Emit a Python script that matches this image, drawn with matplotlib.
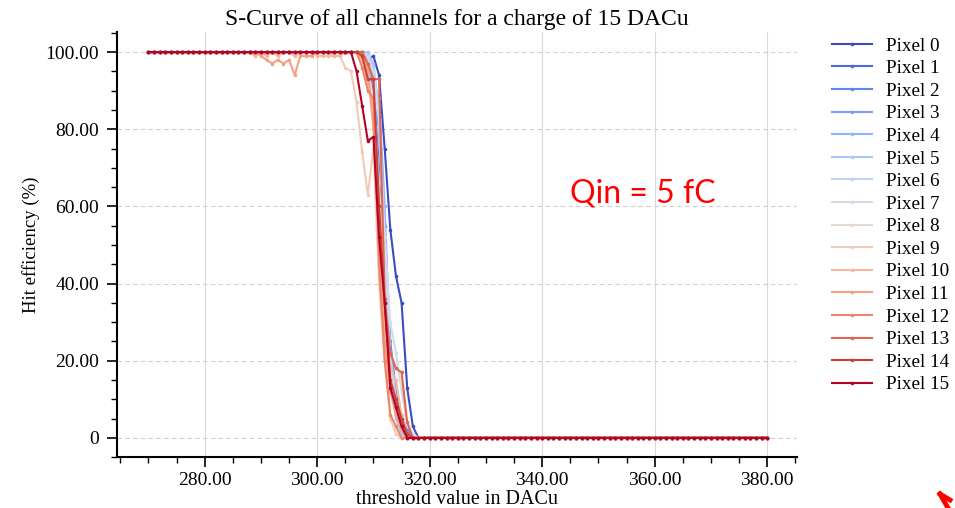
import numpy as np
import matplotlib
matplotlib.use("Agg")
import matplotlib.pyplot as plt
from matplotlib.ticker import MultipleLocator, FuncFormatter
from matplotlib.lines import Line2D

# Threshold scan (DACu) and per-pixel hit efficiency (%)
thresholds = list(range(270, 381))

# Values inside the transition region; below it every pixel sits at 100 %,
# above it at 0 %.
pixel_0 = {308: 100, 309: 98, 310: 99, 311: 94, 312: 75, 313: 54, 314: 42, 315: 35, 316: 13, 317: 3, 318: 0}
pixel_1 = {308: 100, 309: 97, 310: 90, 311: 70, 312: 40, 313: 20, 314: 10, 315: 4, 316: 1, 317: 0}
pixel_2 = {309: 99, 310: 95, 311: 85, 312: 55, 313: 25, 314: 12, 315: 5, 316: 2, 317: 0}
pixel_3 = {309: 96, 310: 88, 311: 80, 312: 45, 313: 18, 314: 8, 315: 3, 316: 0}
pixel_4 = {309: 97, 310: 92, 311: 88, 312: 60, 313: 20, 314: 6, 315: 2, 316: 0}
pixel_5 = {309: 100, 310: 97, 311: 84, 312: 50, 313: 16, 314: 5, 315: 1, 316: 0}
pixel_6 = {309: 98, 310: 94, 311: 82, 312: 48, 313: 22, 314: 10, 315: 3, 316: 0}
pixel_7 = {309: 99, 310: 95, 311: 84, 312: 52, 313: 30, 314: 22, 315: 12, 316: 4, 317: 1, 318: 0}
pixel_8 = {309: 95, 310: 88, 311: 66, 312: 38, 313: 18, 314: 8, 315: 2, 316: 0}
pixel_9 = {303: 99, 304: 99, 305: 96, 306: 95, 307: 87, 308: 74, 309: 63, 310: 75, 311: 40,
           312: 20, 313: 5, 314: 1, 315: 0}
pixel_10 = {289: 99, 291: 99, 293: 99, 296: 99, 300: 99, 301: 99, 302: 99, 303: 99, 304: 99,
            308: 98, 309: 92, 310: 86, 311: 60, 312: 30, 313: 18, 314: 15, 315: 6, 316: 1, 317: 0}
pixel_11 = {290: 99, 291: 98, 292: 97, 293: 98, 294: 97, 295: 98, 296: 94, 297: 99, 298: 99,
            299: 99, 309: 95, 310: 80, 311: 50, 312: 25, 313: 12, 314: 6, 315: 2, 316: 0}
pixel_12 = {308: 96, 309: 90, 310: 88, 311: 45, 312: 20, 313: 6, 314: 3, 315: 0}
pixel_13 = {308: 100, 309: 97, 310: 93, 311: 93, 312: 36, 313: 22, 314: 18, 315: 17, 316: 4, 317: 0}
pixel_14 = {308: 99, 309: 93, 310: 93, 311: 60, 312: 35, 313: 15, 314: 10, 315: 5, 316: 1, 317: 0}
pixel_15 = {307: 95, 308: 86, 309: 77, 310: 78, 311: 52, 312: 35, 313: 13, 314: 8, 315: 3, 316: 0}

pixels = [pixel_0, pixel_1, pixel_2, pixel_3, pixel_4, pixel_5, pixel_6, pixel_7,
          pixel_8, pixel_9, pixel_10, pixel_11, pixel_12, pixel_13, pixel_14, pixel_15]
labels = [f"Pixel {i}" for i in range(16)]


def efficiency_curve(points):
    last_x = max(points)
    out = []
    for t in thresholds:
        if t in points:
            out.append(points[t])
        elif t > last_x:
            out.append(0.0)
        else:
            out.append(100.0)
    return out


plt.rcParams["font.family"] = ["Liberation Serif", "DejaVu Serif"]

fig = plt.figure(figsize=(9.55, 5.08), dpi=100)
ax = fig.add_axes([0.1225, 0.100, 0.712, 0.837])

cmap = plt.get_cmap("coolwarm")
handles = []
for i, pts in enumerate(pixels):
    color = cmap(i / 15)
    h, = ax.plot(thresholds, efficiency_curve(pts), color=color, lw=1.5,
                 marker="o", markersize=2.6, markeredgewidth=0, label=labels[i])
    handles.append(h)

ax.set_xlim(264.4, 385.3)
ax.set_ylim(-5.0, 105.2)
ax.xaxis.set_major_locator(MultipleLocator(20))
ax.xaxis.set_minor_locator(MultipleLocator(5))
ax.yaxis.set_major_locator(MultipleLocator(20))
ax.yaxis.set_minor_locator(MultipleLocator(5))
fmt = FuncFormatter(lambda v, p: "0" if abs(v) < 1e-9 else f"{v:.2f}")
ax.xaxis.set_major_formatter(fmt)
ax.yaxis.set_major_formatter(fmt)

ax.grid(True, axis="x", which="major", color="#d9d9d9", lw=0.8, ls="-")
ax.grid(True, axis="y", which="major", color="#d0d0d0", lw=0.8, ls=(0, (4, 3)))
ax.set_axisbelow(True)

for s in ("top", "right"):
    ax.spines[s].set_visible(False)
for s in ("left", "bottom"):
    ax.spines[s].set_linewidth(1.5)
ax.tick_params(which="major", direction="out", length=7, width=1.2, labelsize=14)
ax.tick_params(axis="y", which="major", pad=6)
ax.tick_params(which="minor", direction="out", length=4, width=1.0)

ax.set_xlabel("threshold value in DACu", fontsize=14.5, labelpad=1)
ax.set_ylabel("Hit efficiency (%)", fontsize=13.5, labelpad=4)
ax.set_title("S-Curve of all channels for a charge of 15 DACu", fontsize=17, pad=5)

fig.legend(handles=handles, loc="upper left", bbox_to_anchor=(0.863, 0.942),
           frameon=False, fontsize=13.8, handlelength=2.1, handletextpad=0.75,
           labelspacing=0.27, borderaxespad=0)

fig.text(0.673, 0.62, "Qin = 5 fC", color="#ff0000", fontsize=23,
         family=["Lato", "DejaVu Sans"], ha="center", va="center")

fig.add_artist(Line2D([940 / 955, 948 / 955], [1 - 494 / 508, 1 - 508 / 508],
                      transform=fig.transFigure, color="#ff0000", lw=3.5))
fig.add_artist(Line2D([940 / 955, 950 / 955], [1 - 494 / 508, 1 - 500 / 508],
                      transform=fig.transFigure, color="#ff0000", lw=3.5))

fig.savefig("out.png", dpi=100)
